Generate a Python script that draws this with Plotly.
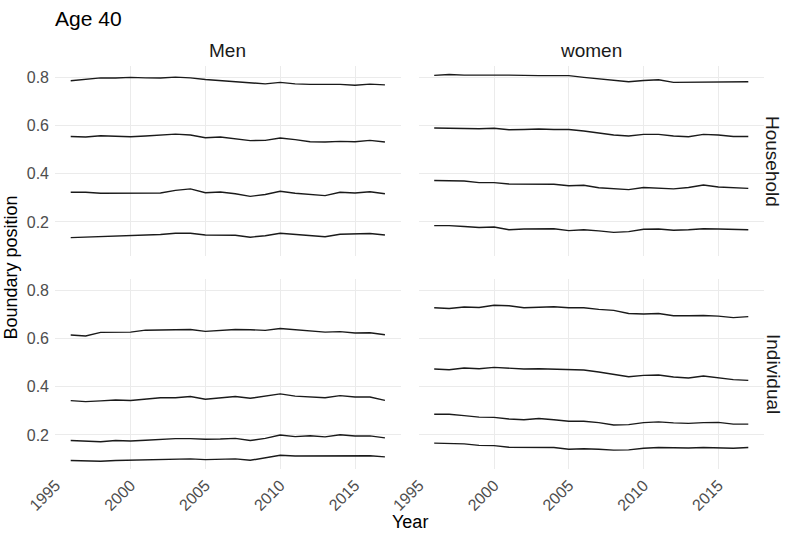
import plotly.graph_objects as go

years = list(range(1996, 2018))

sex_labels = ["Men", "women"]
type_labels = ["Household", "Individual"]

men_household = [
    [0.785, 0.790, 0.797, 0.796, 0.799, 0.797, 0.796, 0.800, 0.797, 0.790, 0.785, 0.782, 0.777, 0.772, 0.778, 0.772, 0.770, 0.770, 0.770, 0.766, 0.771, 0.768],
    [0.554, 0.552, 0.557, 0.556, 0.553, 0.556, 0.560, 0.564, 0.560, 0.549, 0.552, 0.545, 0.537, 0.538, 0.548, 0.541, 0.532, 0.531, 0.534, 0.532, 0.538, 0.531],
    [0.323, 0.323, 0.319, 0.320, 0.321, 0.321, 0.320, 0.331, 0.337, 0.321, 0.324, 0.317, 0.306, 0.314, 0.327, 0.319, 0.313, 0.309, 0.323, 0.320, 0.325, 0.317],
    [0.135, 0.137, 0.137, 0.139, 0.142, 0.143, 0.148, 0.153, 0.153, 0.146, 0.146, 0.145, 0.137, 0.143, 0.153, 0.148, 0.142, 0.139, 0.149, 0.149, 0.152, 0.146],
]
women_household = [
    [0.807, 0.811, 0.808, 0.807, 0.808, 0.808, 0.806, 0.806, 0.806, 0.806, 0.799, 0.794, 0.789, 0.781, 0.786, 0.789, 0.778, 0.779, 0.781, 0.781, 0.781, 0.781],
    [0.589, 0.588, 0.586, 0.586, 0.588, 0.582, 0.583, 0.585, 0.583, 0.583, 0.577, 0.568, 0.560, 0.556, 0.563, 0.563, 0.556, 0.553, 0.563, 0.560, 0.554, 0.554],
    [0.372, 0.372, 0.370, 0.363, 0.363, 0.357, 0.356, 0.357, 0.356, 0.350, 0.352, 0.342, 0.337, 0.334, 0.343, 0.339, 0.337, 0.343, 0.353, 0.345, 0.342, 0.339],
    [0.185, 0.185, 0.181, 0.177, 0.179, 0.168, 0.171, 0.171, 0.172, 0.164, 0.168, 0.163, 0.157, 0.160, 0.170, 0.171, 0.166, 0.168, 0.172, 0.171, 0.171, 0.168],
]
men_individual = [
    [0.614, 0.610, 0.625, 0.626, 0.626, 0.634, 0.634, 0.636, 0.637, 0.629, 0.633, 0.637, 0.636, 0.633, 0.641, 0.637, 0.630, 0.626, 0.628, 0.622, 0.623, 0.615],
    [0.342, 0.338, 0.341, 0.345, 0.343, 0.348, 0.354, 0.354, 0.359, 0.348, 0.354, 0.359, 0.352, 0.360, 0.370, 0.361, 0.359, 0.354, 0.363, 0.357, 0.357, 0.343],
    [0.177, 0.174, 0.172, 0.177, 0.175, 0.178, 0.182, 0.185, 0.185, 0.182, 0.183, 0.186, 0.177, 0.186, 0.200, 0.193, 0.197, 0.192, 0.201, 0.196, 0.196, 0.188],
    [0.094, 0.092, 0.091, 0.094, 0.095, 0.097, 0.098, 0.099, 0.101, 0.098, 0.099, 0.101, 0.095, 0.105, 0.116, 0.113, 0.113, 0.113, 0.114, 0.114, 0.114, 0.109],
]
women_individual = [
    [0.727, 0.724, 0.730, 0.728, 0.737, 0.735, 0.727, 0.730, 0.731, 0.727, 0.727, 0.720, 0.716, 0.703, 0.701, 0.703, 0.694, 0.694, 0.695, 0.692, 0.686, 0.690],
    [0.473, 0.470, 0.477, 0.474, 0.480, 0.476, 0.473, 0.474, 0.472, 0.469, 0.469, 0.461, 0.450, 0.441, 0.447, 0.448, 0.440, 0.436, 0.444, 0.437, 0.429, 0.426],
    [0.286, 0.286, 0.280, 0.274, 0.273, 0.266, 0.263, 0.268, 0.263, 0.257, 0.257, 0.251, 0.241, 0.243, 0.251, 0.254, 0.250, 0.248, 0.251, 0.252, 0.245, 0.245],
    [0.166, 0.164, 0.163, 0.157, 0.156, 0.149, 0.148, 0.149, 0.148, 0.141, 0.143, 0.141, 0.137, 0.138, 0.145, 0.148, 0.146, 0.146, 0.148, 0.146, 0.145, 0.148],
]

x_ticks = [1995, 2000, 2005, 2010, 2015]
y_ticks = [0.2, 0.4, 0.6, 0.8]

FONT = "Liberation Sans, Arial, Helvetica, sans-serif"
W, H = 789, 536
ML, MR, MT, MB = 55, 25, 66, 67

panels = [
    (men_household, "x3", "y3"),
    (women_household, "x4", "y4"),
    (men_individual, "x", "y"),
    (women_individual, "x2", "y2"),
]

fig = go.Figure()
for data, xa, ya in panels:
    for series in data:
        fig.add_trace(go.Scatter(
            x=years, y=series, xaxis=xa, yaxis=ya, mode="lines",
            line=dict(color="#1a1a1a", width=1.4), showlegend=False,
            hoverinfo="skip",
        ))

xleft = [0, 0.4875]
xright = [0.5127, 1]
ybot = [0, 0.4715]
ytop = [0.5285, 1]
xr = [1994.95, 2018.05]
yr = [0.059, 0.846]

grid = "#EBEBEB"
tickfont = dict(family=FONT, size=16, color="#4D4D4D")

def xax(domain, anchor, show):
    return dict(domain=domain, anchor=anchor, range=xr, tickvals=x_ticks,
                showticklabels=show, tickangle=-45, ticks="", showgrid=True,
                gridcolor=grid, gridwidth=1, zeroline=False, showline=False,
                tickfont=tickfont, ticklabelstandoff=3)

def yax(domain, anchor, show):
    return dict(domain=domain, anchor=anchor, range=yr, tickvals=y_ticks,
                tickformat=".1f", showticklabels=show, ticks="", showgrid=True,
                gridcolor=grid, gridwidth=1, zeroline=False, showline=False,
                tickfont=tickfont, ticklabelstandoff=5)

fig.update_layout(
    width=W, height=H,
    margin=dict(l=ML, r=MR, t=MT, b=MB),
    paper_bgcolor="white", plot_bgcolor="white",
    font=dict(family=FONT, color="#1a1a1a"),
    xaxis=xax(xleft, "y", True),
    xaxis2=xax(xright, "y2", True),
    xaxis3=xax(xleft, "y3", False),
    xaxis4=xax(xright, "y4", False),
    yaxis=yax(ybot, "x", True),
    yaxis2=yax(ybot, "x2", False),
    yaxis3=yax(ytop, "x3", True),
    yaxis4=yax(ytop, "x4", False),
    title=dict(text="Age 40", x=55 / W, xanchor="left", xref="container",
               y=1 - 19 / H, yanchor="middle", yref="container",
               font=dict(family=FONT, size=21, color="#000000")),
)

strip_font = dict(family=FONT, size=19, color="#1a1a1a")
ann = []
ann.append(dict(text=sex_labels[0], x=sum(xleft) / 2, y=1, xref="paper", yref="paper",
                xanchor="center", yanchor="middle", yshift=16, showarrow=False, font=strip_font))
ann.append(dict(text=sex_labels[1], x=sum(xright) / 2, y=1, xref="paper", yref="paper",
                xanchor="center", yanchor="middle", yshift=16, showarrow=False, font=strip_font))
ann.append(dict(text=type_labels[0], x=1, y=sum(ytop) / 2, xref="paper", yref="paper",
                xanchor="center", yanchor="middle", xshift=9, textangle=90,
                showarrow=False, font=strip_font))
ann.append(dict(text=type_labels[1], x=1, y=sum(ybot) / 2, xref="paper", yref="paper",
                xanchor="center", yanchor="middle", xshift=9, textangle=90,
                showarrow=False, font=strip_font))
ann.append(dict(text="Year", x=0.5, y=0, xref="paper", yref="paper",
                xanchor="center", yanchor="middle", yshift=-53, showarrow=False,
                font=dict(family=FONT, size=18, color="#000000")))
ann.append(dict(text="Boundary position", x=0, y=0.5, xref="paper", yref="paper",
                xanchor="center", yanchor="middle", xshift=-45, textangle=-90,
                showarrow=False, font=dict(family=FONT, size=18, color="#000000")))
fig.update_layout(annotations=ann)

fig.write_html("out.html", config={"displayModeBar": False},
               post_script="document.body.style.margin='0';document.body.style.padding='0';")
